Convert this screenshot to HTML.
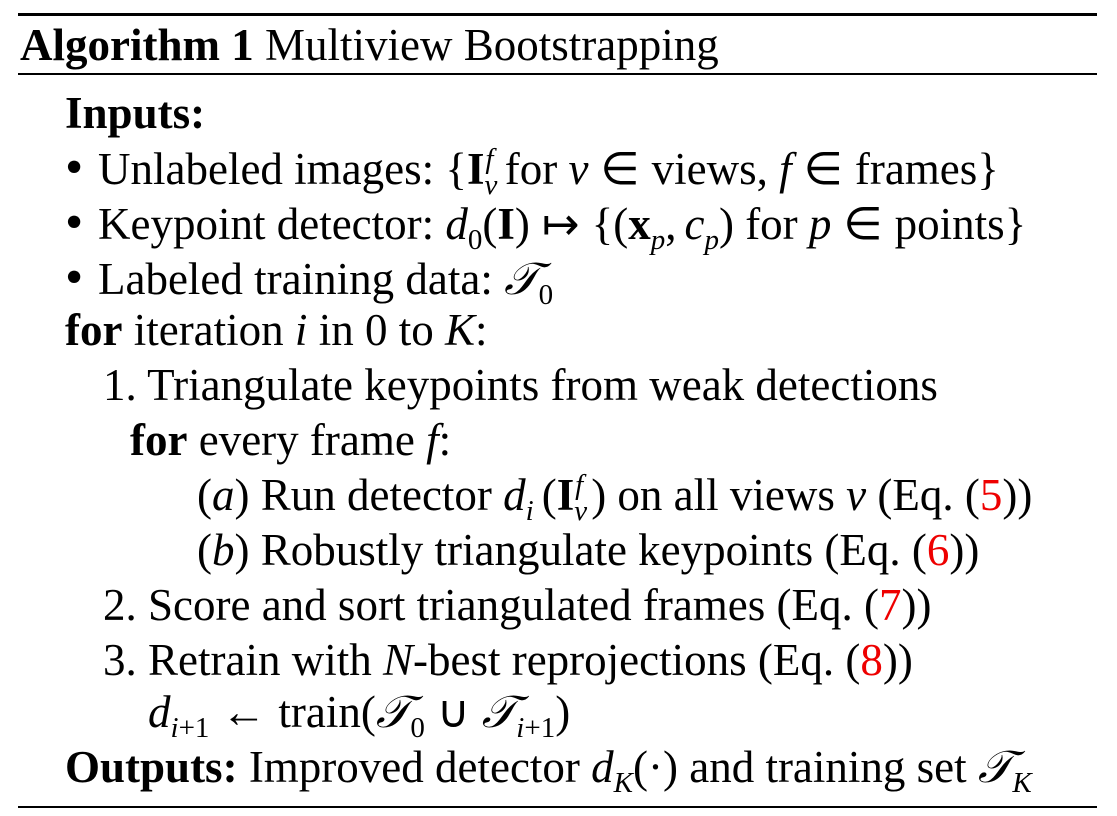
<!DOCTYPE html>
<html><head><meta charset="utf-8"><style>
body{margin:0;width:1117px;height:816px;background:#fff;position:relative;overflow:hidden;font-family:"Liberation Serif",serif;color:#000}
.l{position:absolute;white-space:nowrap;font-size:45px;line-height:42px}
.r{position:absolute;left:18px;width:1079px;background:#000}
i{font-style:italic}
.bf{font-weight:bold}
.red{color:#e00}
sub,sup{font-size:29px;line-height:0}
.b{display:inline-block;width:33px;font-size:52px}
.o{margin:0 12px}
.s{display:inline-block;width:8px}
</style></head><body>
<div class="r" style="top:13px;height:3px"></div>
<div class="r" style="top:73px;height:2px"></div>
<div class="r" style="top:806px;height:2px"></div>
<div class="l" style="left:20px;top:24px"><span class="bf">Algorithm 1</span> Multiview Bootstrapping</div>
<div class="l bf" style="left:65px;top:92px">Inputs:</div>
<div class="l" style="left:65px;top:147px"><span class="b">•</span>Unlabeled images: {<b>I</b><sub><i>v</i></sub><sup style="margin-left:-12px"><i>f</i></sup> for <i>v</i><span class="o">∈</span>views, <i>f</i><span class="o">∈</span>frames}</div>
<div class="l" style="left:65px;top:202px"><span class="b">•</span>Keypoint detector: <i>d</i><sub>0</sub>(<b>I</b>)<span class="o">↦</span>{(<b>x</b><sub><i>p</i></sub>,<span class="s"></span><i>c</i><sub><i>p</i></sub>) for <i>p</i><span class="o">∈</span>points}</div>
<div class="l" style="left:65px;top:257px"><span class="b">•</span>Labeled training data: <i>𝒯</i><sub>0</sub></div>
<div class="l" style="left:65px;top:309px"><b>for</b> iteration <i>i</i> in 0 to <i>K</i>:</div>
<div class="l" style="left:103px;top:364px">1. Triangulate keypoints from weak detections</div>
<div class="l" style="left:130px;top:419px"><b>for</b> every frame <i>f</i>:</div>
<div class="l" style="left:197px;top:474px">(<i>a</i>) Run detector <i>d</i><sub><i>i</i></sub><span class="s"></span>(<b>I</b><sub><i>v</i></sub><sup style="margin-left:-12px"><i>f</i></sup><span class="s"></span>) on all views <i>v</i> (Eq. (<span class="red">5</span>))</div>
<div class="l" style="left:197px;top:529px">(<i>b</i>) Robustly triangulate keypoints (Eq. (<span class="red">6</span>))</div>
<div class="l" style="left:103px;top:584px">2. Score and sort triangulated frames (Eq. (<span class="red">7</span>))</div>
<div class="l" style="left:103px;top:639px">3. Retrain with <i>N</i>-best reprojections (Eq. (<span class="red">8</span>))</div>
<div class="l" style="left:148px;top:691px"><i>d</i><sub><i>i</i>+1</sub><span class="o">←</span>train(<i>𝒯</i><sub>0</sub><span class="o">∪</span><i>𝒯</i><sub><i>i</i>+1</sub>)</div>
<div class="l" style="left:65px;top:746px"><b>Outputs:</b> Improved detector <i>d</i><sub><i>K</i></sub>(·) and training set <i>𝒯</i><sub><i>K</i></sub></div>
</body></html>
